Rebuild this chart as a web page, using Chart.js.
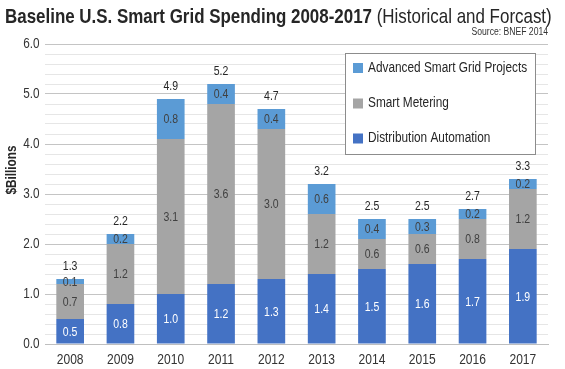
<!DOCTYPE html>
<html><head><meta charset="utf-8">
<script src="https://cdn.jsdelivr.net/npm/chart.js@4"></script>
<style>html,body{margin:0;padding:0;background:#fff;}#wrap{width:565px;height:369px;}</style>
</head><body><div id="wrap"><canvas id="c" width="565" height="369"></canvas></div>
<script>
const years = ['2008','2009','2010','2011','2012','2013','2014','2015','2016','2017'];
const distributionAutomation = [0.5,0.8,1.0,1.2,1.3,1.4,1.5,1.6,1.7,1.9];
const smartMetering = [0.7,1.2,3.1,3.6,3.0,1.2,0.6,0.6,0.8,1.2];
const advancedProjects = [0.1,0.2,0.8,0.4,0.4,0.6,0.4,0.3,0.2,0.2];
const totals = [1.3,2.2,4.9,5.2,4.7,3.2,2.5,2.5,2.7,3.3];
const yTickLabels = ['0.0','1.0','2.0','3.0','4.0','5.0','6.0'];
const seriesNames = ['Distribution Automation','Smart Metering','Advanced Smart Grid Projects'];
const titleBold = 'Baseline U.S. Smart Grid Spending 2008-2017';
const titleRest = '(Historical and Forcast)';
const sourceText = 'Source: BNEF 2014';
const yTitle = '$Billions';

const FAM = '"Liberation Sans",Arial,sans-serif';
const COLORS = ['#4472C4','#A5A5A5','#5B9BD5'];
const TXT = '#333333';
const SX = 0.84;
Chart.defaults.font.family = FAM;

function txt(ctx, s, x, y, font, color, align, base, sx) {
  ctx.save();
  ctx.font = font;
  ctx.fillStyle = color;
  ctx.textAlign = align || 'left';
  ctx.textBaseline = base || 'middle';
  ctx.translate(x, y);
  ctx.scale(sx || SX, 1);
  ctx.fillText(s, 0, 0);
  ctx.restore();
}

const custom = {
  id: 'custom',
  afterDraw(chart) {
    const ctx = chart.ctx;
    ctx.save();
    // title: fit bold part to its width in the reference
    const fb = 'bold 21px ' + FAM, fr = '21px ' + FAM;
    ctx.font = fb;
    const wb = ctx.measureText(titleBold).width;
    const tsx = 367 / wb;
    const wsp = ctx.measureText(' ').width * tsx;
    txt(ctx, titleBold, 5, 23, fb, '#262626', 'left', 'alphabetic', tsx);
    txt(ctx, titleRest, 5 + wb * tsx + wsp, 23, fr, '#262626', 'left', 'alphabetic', tsx);
    // source
    txt(ctx, sourceText, 548, 32.5, '10px ' + FAM, TXT, 'right', 'middle', 0.86);
    // y title
    ctx.save();
    ctx.translate(12, 170);
    ctx.rotate(-Math.PI / 2);
    txt(ctx, yTitle, 0, 0, 'bold 14px ' + FAM, '#262626', 'center', 'middle', 0.84);
    ctx.restore();
    // y tick labels
    const ys = chart.scales.y, xs = chart.scales.x;
    yTickLabels.forEach((l) => {
      txt(ctx, l, 39.5, ys.getPixelForValue(parseFloat(l)), '14px ' + FAM, TXT, 'right', 'middle', 0.84);
    });
    // x labels
    chart.data.labels.forEach((l, i) => {
      txt(ctx, l, xs.getPixelForValue(i), 360, '14px ' + FAM, TXT, 'center', 'middle', 0.86);
    });
    // data labels
    chart.data.datasets.forEach((ds, di) => {
      const meta = chart.getDatasetMeta(di);
      meta.data.forEach((el, i) => {
        txt(ctx, ds.data[i].toFixed(1), el.x, (el.y + el.base) / 2 + 1, '12.5px ' + FAM,
            di === 0 ? '#ffffff' : '#404040', 'center', 'middle', 0.84);
        if (di === chart.data.datasets.length - 1) {
          txt(ctx, totals[i].toFixed(1), el.x, el.y - 12.5, '12.5px ' + FAM, '#262626', 'center', 'middle', 0.84);
        }
      });
    });
    // legend
    const lx = 345.5, ly = 53.5, lw = 190, lh = 101;
    ctx.fillStyle = '#ffffff';
    ctx.fillRect(lx, ly, lw, lh);
    ctx.strokeStyle = '#8c8c8c';
    ctx.lineWidth = 1;
    ctx.strokeRect(lx, ly, lw, lh);
    const rows = [2, 1, 0];
    const ly2 = [68, 103.5, 138.5];
    rows.forEach((di, k) => {
      ctx.fillStyle = chart.data.datasets[di].backgroundColor;
      ctx.fillRect(353, ly2[k] - 5, 10, 10);
      txt(ctx, chart.data.datasets[di].label, 368, ly2[k], '14px ' + FAM, '#262626', 'left', 'middle', 0.845);
    });
    ctx.restore();
  }
};

new Chart(document.getElementById('c'), {
  type: 'bar',
  data: {
    labels: years,
    datasets: [
      { label: seriesNames[0], data: distributionAutomation, backgroundColor: COLORS[0] },
      { label: seriesNames[1], data: smartMetering, backgroundColor: COLORS[1] },
      { label: seriesNames[2], data: advancedProjects, backgroundColor: COLORS[2] }
    ]
  },
  options: {
    responsive: false,
    animation: false,
    devicePixelRatio: 1,
    barPercentage: 0.55,
    categoryPercentage: 1.0,
    layout: { padding: { top: 44, right: 17, left: 0, bottom: 0 } },
    plugins: { legend: { display: false }, title: { display: false }, tooltip: { enabled: false } },
    scales: {
      x: {
        stacked: true,
        grid: { display: false, drawTicks: false },
        border: { display: true, color: '#bfbfbf', width: 1 },
        ticks: { display: false },
        afterFit(s) { s.height = 25; }
      },
      y: {
        stacked: true,
        min: 0, max: 6,
        border: { display: false },
        grid: {
          drawTicks: false,
          color: (c) => (c.tick && Math.abs(c.tick.value - Math.round(c.tick.value)) < 1e-6) ? '#c4c4c4' : '#e6e6e6',
          lineWidth: 1
        },
        ticks: { display: false, stepSize: 0.2, autoSkip: false, maxTicksLimit: 50 },
        afterFit(s) { s.width = 45; }
      }
    }
  },
  plugins: [custom]
});
</script></body></html>
